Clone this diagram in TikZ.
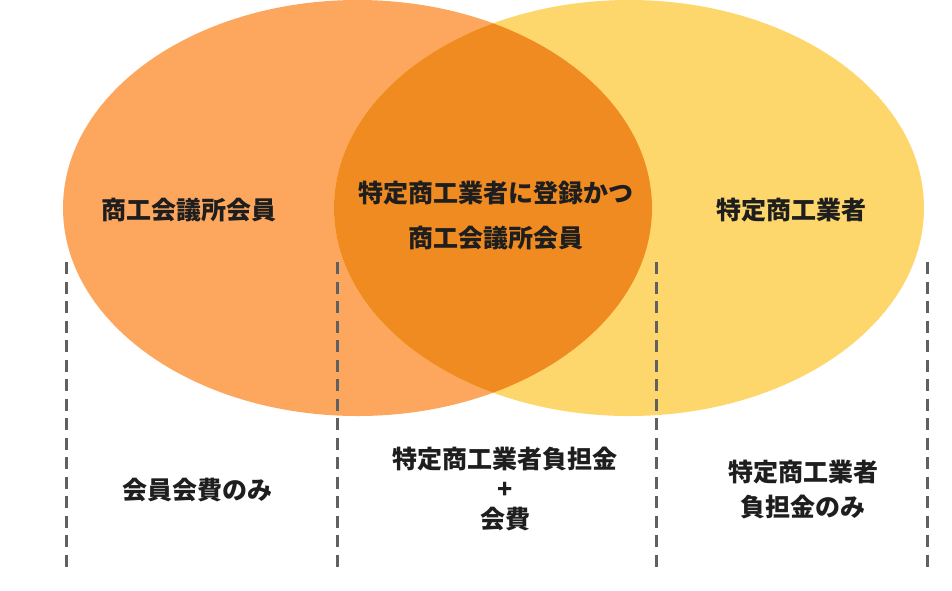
\documentclass[tikz,border=0pt]{standalone}
\usepackage{fontspec}
\newfontfamily\cjk{Noto Sans CJK JP}
\usetikzlibrary{positioning}
\definecolor{memberorange}{HTML}{FDA65D}
\definecolor{traderyellow}{HTML}{FED76C}
\definecolor{bothorange}{HTML}{EF8B21}
\definecolor{dividergray}{HTML}{606060}
\definecolor{labelblack}{HTML}{1E1E1E}

\begin{document}
\begin{tikzpicture}[
      x = 1pt, y = -1pt,
      vennlabel/.style   = {text=labelblack, align=center, inner sep=0pt,
                            font=\cjk\bfseries\fontsize{25}{35}\selectfont},
      dividerline/.style = {draw=dividergray, line width=3pt, dash pattern=on 12pt off 7.5pt}
    ]
    \useasboundingbox (0,0) rectangle (952,590);

    % the two sets
    \fill[memberorange] (357.5,208) ellipse [x radius=294.5pt, y radius=208pt];
    \fill[traderyellow] (629,208) ellipse [x radius=295pt, y radius=208pt];
    \begin{scope}
      \clip (357.5,208) ellipse [x radius=294.5pt, y radius=208pt];
      \fill[bothorange] (629,208) ellipse [x radius=295pt, y radius=208pt];
    \end{scope}

    % column dividers
    \foreach \x in {66,337,656,927}
      \draw[dividerline] (\x,262) -- (\x,570);

    \node[vennlabel] (chamber) at (189,210) {商工会議所会員};
    \node[vennlabel] (both)    at (495.5,215.5) {特定商工業者に登録かつ\\[10pt]商工会議所会員};
    \node[vennlabel] (trader)  at (791,210) {特定商工業者};

    \node[vennlabel] (feeleft)  at (197,490) {会員会費のみ};
    \node[vennlabel] (feemid)   at (505,489) {特定商工業者負担金\\[-5pt]+\\[-5pt]会費};
    \node[vennlabel] (feeright) at (803,489.5) {特定商工業者\\負担金のみ};
\end{tikzpicture}
\end{document}
